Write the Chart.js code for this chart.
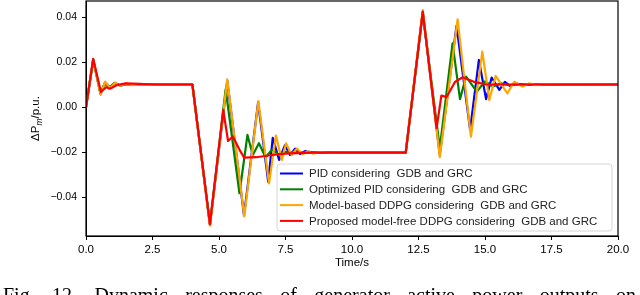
<!DOCTYPE html>
<html>
<head>
<meta charset="utf-8">
<script src="https://cdn.jsdelivr.net/npm/chart.js@4.4.0/dist/chart.umd.min.js"></script>
<style>
  html, body { margin: 0; padding: 0; background: #fff; }
  #wrap { position: relative; width: 640px; height: 295px; overflow: hidden; }
</style>
</head>
<body>
<div id="wrap"><canvas id="chart" width="640" height="295"></canvas></div>
<script>
// time (s), ΔPm (p.u.)
const pidData = [
  [0, 0], [0.27, 0.0212], [0.55, 0.0060], [0.72, 0.0110], [0.9, 0.0088], [1.1, 0.0108],
  [1.3, 0.0096], [1.5, 0.0104], [1.75, 0.0099], [2.1, 0.0101], [4.0, 0.0101],
  [4.66, -0.0522], [5.31, 0.0118], [5.94, -0.0480], [6.47, 0.0022], [6.85, -0.0331],
  [7.02, -0.0136], [7.26, -0.0234], [7.48, -0.0168], [7.67, -0.0212], [7.86, -0.0184],
  [8.05, -0.0208], [8.23, -0.0195], [8.6, -0.0202], [12.02, -0.0202],
  [12.66, 0.0422], [13.3, -0.0210], [13.93, 0.0362], [14.44, -0.0101], [14.77, 0.0210],
  [15.04, 0.0036], [15.25, 0.0132], [15.54, 0.0077], [15.75, 0.0113], [15.95, 0.0094],
  [16.15, 0.0105], [16.5, 0.0100], [20, 0.0101]
];
const optPidData = [
  [0, 0], [0.27, 0.0210], [0.54, 0.0062], [0.7, 0.0105], [0.88, 0.0088], [1.08, 0.0108],
  [1.28, 0.0097], [1.5, 0.0103], [1.8, 0.0100], [4.0, 0.0101],
  [4.66, -0.0520], [5.25, 0.0080], [5.77, -0.0382], [6.07, -0.0123], [6.27, -0.0212],
  [6.5, -0.0160], [6.75, -0.0222], [7.0, -0.0188], [7.25, -0.0210], [7.5, -0.0198],
  [8.0, -0.0202], [12.02, -0.0202],
  [12.66, 0.0420], [13.3, -0.0182], [13.78, 0.0284], [14.06, 0.0036], [14.29, 0.0136],
  [14.69, 0.0069], [15.0, 0.0115], [15.3, 0.0092], [15.6, 0.0106], [15.9, 0.0098],
  [16.3, 0.0101], [20, 0.0101]
];
const ddpgData = [
  [0, 0], [0.27, 0.0212], [0.55, 0.0055], [0.72, 0.0114], [0.9, 0.0085], [1.1, 0.0109],
  [1.3, 0.0095], [1.5, 0.0105], [1.75, 0.0098], [2.0, 0.0102], [2.3, 0.0100], [4.0, 0.0101],
  [4.66, -0.0526], [5.31, 0.0124], [5.95, -0.0485], [6.48, 0.0027], [6.88, -0.0338],
  [7.14, -0.0126], [7.36, -0.0234], [7.52, -0.0160], [7.73, -0.0212], [7.93, -0.0183],
  [8.15, -0.0209], [8.34, -0.0195], [8.53, -0.0206], [8.8, -0.0199], [9.1, -0.0203],
  [9.5, -0.0202], [12.02, -0.0202],
  [12.66, 0.0432], [13.3, -0.0222], [13.97, 0.0390], [14.47, -0.0131], [14.9, 0.0247],
  [15.16, 0.0032], [15.4, 0.0139], [15.84, 0.0062], [16.1, 0.0113], [16.4, 0.0092],
  [16.65, 0.0106], [16.9, 0.0098], [17.2, 0.0101], [20, 0.0101]
];
const freeDdpgData = [
  [0, 0], [0.27, 0.0215], [0.56, 0.0068], [0.76, 0.0089], [0.9, 0.0082], [1.15, 0.0098],
  [1.5, 0.0106], [2.0, 0.0104], [2.6, 0.0101], [4.0, 0.0101],
  [4.66, -0.0519], [5.16, -0.0012], [5.34, -0.0150], [5.52, -0.0130], [5.8, -0.0195],
  [5.95, -0.0224], [6.4, -0.0222], [7.0, -0.0212], [7.6, -0.0205], [8.5, -0.0202],
  [12.02, -0.0202],
  [12.66, 0.0425], [13.18, -0.0093], [13.36, 0.0052], [13.55, 0.0045], [13.72, 0.0080],
  [13.87, 0.0112], [14.16, 0.0133], [14.56, 0.0114], [15.06, 0.0101], [20, 0.0101]
];

const seriesNames = [
  'PID considering  GDB and GRC',
  'Optimized PID considering  GDB and GRC',
  'Model-based DDPG considering  GDB and GRC',
  'Proposed model-free DDPG considering  GDB and GRC'
];
const xTicks = [0, 2.5, 5, 7.5, 10, 12.5, 15, 17.5, 20];
const yTicks = [-0.04, -0.02, 0, 0.02, 0.04];
const xTitle = 'Time/s';
const caption = 'Fig. 12. Dynamic responses of generator active power outputs on';

const colors = ['#0000ff', '#008000', '#ffa500', '#ff0000'];
const FONT = '"Liberation Sans", Arial, sans-serif';

function toPts(arr) {
  return arr.map(p => ({ x: p[0], y: p[1] }));
}

const extras = {
  id: 'extras',
  afterDatasetsDraw(chart) {
    const ctx = chart.ctx;
    const a = chart.chartArea;
    ctx.save();
    // full frame
    ctx.strokeStyle = '#000';
    ctx.lineWidth = 1.2;
    ctx.strokeRect(a.left, a.top, a.right - a.left, a.bottom - a.top);

    // legend box
    const bx = 277, by = 164, bw = 335, bh = 67, r = 3;
    ctx.beginPath();
    ctx.moveTo(bx + r, by);
    ctx.arcTo(bx + bw, by, bx + bw, by + bh, r);
    ctx.arcTo(bx + bw, by + bh, bx, by + bh, r);
    ctx.arcTo(bx, by + bh, bx, by, r);
    ctx.arcTo(bx, by, bx + bw, by, r);
    ctx.closePath();
    ctx.fillStyle = 'rgba(255,255,255,0.85)';
    ctx.fill();
    ctx.strokeStyle = '#d6d6d6';
    ctx.lineWidth = 1;
    ctx.stroke();

    ctx.font = '11.5px ' + FONT;
    ctx.textBaseline = 'middle';
    ctx.textAlign = 'left';
    seriesNames.forEach((name, i) => {
      const y = 173.5 + i * 15.8;
      ctx.strokeStyle = colors[i];
      ctx.lineWidth = 2;
      ctx.beginPath();
      ctx.moveTo(280, y);
      ctx.lineTo(303, y);
      ctx.stroke();
      ctx.fillStyle = '#222';
      ctx.fillText(name, 309, y + 0.5);
    });
    ctx.restore();
  },
  afterDraw(chart) {
    const ctx = chart.ctx;
    const a = chart.chartArea;
    ctx.save();
    ctx.fillStyle = '#000';

    // x title
    ctx.font = '11.5px ' + FONT;
    ctx.textAlign = 'center';
    ctx.textBaseline = 'middle';
    ctx.fillText(xTitle, (a.left + a.right) / 2, 263);

    // y title: ΔP_m/p.u.
    ctx.translate(35, (a.top + a.bottom) / 2);
    ctx.rotate(-Math.PI / 2);
    ctx.textAlign = 'left';
    ctx.textBaseline = 'alphabetic';
    const big = '11.5px ' + FONT, small = 'italic 8.5px ' + FONT;
    ctx.font = big;
    const w1 = ctx.measureText('ΔP').width;
    const w3 = ctx.measureText('/p.u.').width;
    ctx.font = small;
    const w2 = ctx.measureText('m').width;
    let x0 = -(w1 + w2 + w3) / 2;
    ctx.font = big;
    ctx.fillText('ΔP', x0, 4);
    ctx.font = small;
    ctx.fillText('m', x0 + w1, 6.5);
    ctx.font = big;
    ctx.fillText('/p.u.', x0 + w1 + w2, 4);
    ctx.setTransform(1, 0, 0, 1, 0, 0);

    // caption (only its top part is visible)
    ctx.font = '20px "Liberation Serif", "Times New Roman", serif';
    const words = caption.split(' ');
    const widths = words.map(w => ctx.measureText(w).width);
    const total = widths.reduce((s, w) => s + w, 0);
    const gap = (636 - 3 - total) / (words.length - 1);
    let cx = 3;
    words.forEach((w, i) => {
      ctx.fillText(w, cx, 302);
      cx += widths[i] + gap;
    });
    ctx.restore();
  }
};

new Chart(document.getElementById('chart').getContext('2d'), {
  type: 'line',
  data: {
    datasets: [
      { label: seriesNames[0], data: toPts(pidData), borderColor: colors[0], order: 4 },
      { label: seriesNames[1], data: toPts(optPidData), borderColor: colors[1], order: 3 },
      { label: seriesNames[2], data: toPts(ddpgData), borderColor: colors[2], order: 2 },
      { label: seriesNames[3], data: toPts(freeDdpgData), borderColor: colors[3], order: 1 }
    ]
  },
  options: {
    responsive: false,
    animation: false,
    events: [],
    layout: { padding: { top: 1, right: 22, bottom: 0, left: 0 } },
    elements: {
      point: { radius: 0 },
      line: { borderWidth: 2.2, tension: 0, fill: false, borderJoinStyle: 'round', borderCapStyle: 'round' }
    },
    plugins: { legend: { display: false }, tooltip: { enabled: false } },
    scales: {
      x: {
        type: 'linear',
        min: 0,
        max: 20,
        afterBuildTicks: s => { s.ticks = xTicks.map(v => ({ value: v })); },
        afterFit: s => { s.height = 59; s.paddingLeft = 0; s.paddingRight = 0; },
        ticks: {
          callback: v => v.toFixed(1),
          font: { family: FONT, size: 11.5 },
          color: '#000',
          padding: 3,
          maxRotation: 0,
          autoSkip: false
        },
        grid: { drawOnChartArea: false, drawTicks: true, tickLength: 4, color: '#000' },
        border: { color: '#000', width: 1 }
      },
      y: {
        min: -0.0572,
        max: 0.0472,
        afterBuildTicks: s => { s.ticks = yTicks.map(v => ({ value: v })); },
        afterFit: s => { s.width = 86; s.paddingTop = 0; s.paddingBottom = 0; },
        ticks: {
          callback: v => (v < 0 ? '\u2212' : '') + Math.abs(v).toFixed(2),
          font: { family: FONT, size: 10.5 },
          color: '#000',
          padding: 5,
          autoSkip: false
        },
        grid: { drawOnChartArea: false, drawTicks: true, tickLength: 4, color: '#000' },
        border: { color: '#000', width: 1 }
      }
    }
  },
  plugins: [extras]
});
</script>
</body>
</html>
